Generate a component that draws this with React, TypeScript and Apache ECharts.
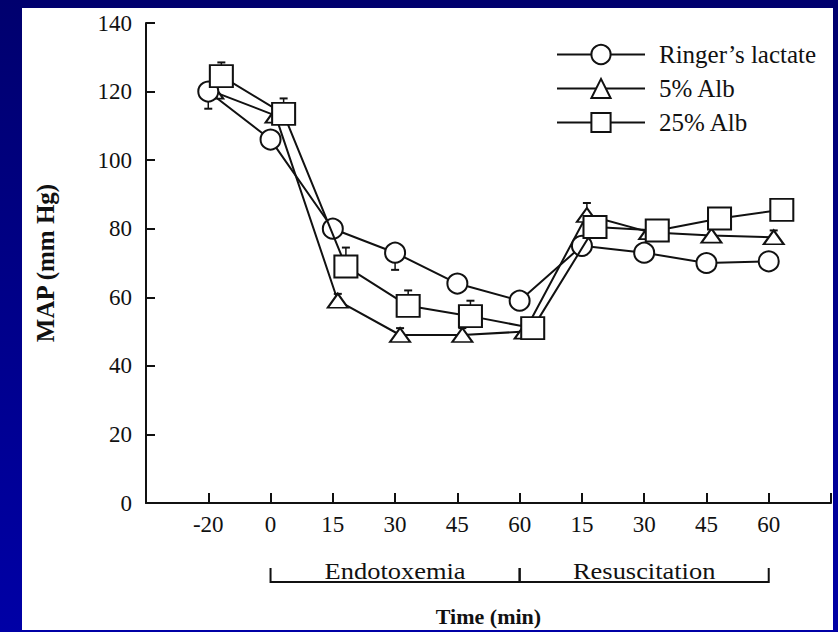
import React, { useEffect, useRef } from 'react';
import * as echarts from 'echarts';

// Time points (minutes): baseline, endotoxemia phase, resuscitation phase
const timeLabels = ['-20', '0', '15', '30', '45', '60', '15', '30', '45', '60'];

// Mean arterial pressure (mm Hg) per group
const ringerLactate = [120, 106, 80, 73, 64, 59, 75, 73, 70, 70.5];
const ringerErr = [5, 2, 2, 5, 2, 2, 2, 2, 2, 2];
const alb5 = [120, 113, 59, 49, 49, 50, 84, 79, 78, 77.5];
const alb5Err = [2, 2, 2, 2, 2, 2, 3.5, 2, 2, 2];
const alb25 = [124.5, 113.5, 69, 57.5, 54.5, 51, 80.5, 79.5, 83, 85.5];
const alb25Err = [4, 4.5, 5.5, 4.5, 4.5, 2, 2, 2, 2, 2];

// Experimental phases, spanning time-point indices
const phases = [
  { name: 'Endotoxemia', from: 1, to: 5 },
  { name: 'Resuscitation', from: 5, to: 9 },
];

const FONT = '"Liberation Serif", "Times New Roman", serif';
const INK = '#111';

type Group = {
  name: string;
  values: number[];
  errors: number[];
  symbol: string;
  symbolSize: number | number[];
  dodge: number; // horizontal shift in index units so markers don't overlap
  errDir: number; // +1 error bar drawn upward, -1 downward
  z: number;
};

const groups: Group[] = [
  { name: 'Ringer\u2019s lactate', values: ringerLactate, errors: ringerErr, symbol: 'circle', symbolSize: 20, dodge: 0, errDir: -1, z: 4 },
  { name: '5% Alb', values: alb5, errors: alb5Err, symbol: 'triangle', symbolSize: [20, 14], dodge: 0.08, errDir: 1, z: 3 },
  { name: '25% Alb', values: alb25, errors: alb25Err, symbol: 'rect', symbolSize: [23, 22], dodge: 0.21, errDir: 1, z: 5 },
];

export default function App() {
  const ref = useRef<HTMLDivElement>(null);

  useEffect(() => {
    if (!ref.current) return;
    const chart = echarts.init(ref.current, undefined, { renderer: 'svg' });

    const lineSeries = groups.map((g) => ({
      type: 'line',
      name: g.name,
      data: g.values.map((v, i) => [i + g.dodge, v]),
      symbol: g.symbol,
      symbolSize: g.symbolSize,
      showAllSymbol: true,
      z: g.z,
      lineStyle: { color: INK, width: 2 },
      itemStyle: { color: '#fff', borderColor: INK, borderWidth: 2 },
      emphasis: { disabled: true },
    }));

    const errorSeries = groups.map((g) => ({
      type: 'custom',
      name: g.name + ' SE',
      z: 1,
      silent: true,
      encode: { x: 0, y: 1 },
      data: g.values.map((v, i) => [i + g.dodge, v, g.errors[i]]),
      renderItem: (_params: any, api: any) => {
        const x = api.value(0);
        const y = api.value(1);
        const e = api.value(2);
        const base = api.coord([x, y]);
        const tip = api.coord([x, y + g.errDir * e]);
        return {
          type: 'group',
          children: [
            { type: 'line', shape: { x1: base[0], y1: base[1], x2: tip[0], y2: tip[1] }, style: { stroke: INK, lineWidth: 1.5 } },
            { type: 'line', shape: { x1: tip[0] - 4, y1: tip[1], x2: tip[0] + 4, y2: tip[1] }, style: { stroke: INK, lineWidth: 2 } },
          ],
        };
      },
    }));

    // Bracket under the time axis marking each phase
    const phaseSeries = {
      type: 'custom',
      name: 'phases',
      silent: true,
      clip: false,
      encode: { x: [0, 1], y: 2 },
      data: phases.map((p) => [p.from, p.to, 0]),
      renderItem: (params: any, api: any) => {
        const a = api.coord([api.value(0), 0]);
        const b = api.coord([api.value(1), 0]);
        const y = a[1] + 79;
        return {
          type: 'group',
          children: [
            {
              type: 'polyline',
              shape: { points: [[a[0], y - 14], [a[0], y], [b[0], y], [b[0], y - 14]] },
              style: { stroke: INK, lineWidth: 2, fill: 'none' },
            },
            {
              type: 'text',
              x: (a[0] + b[0]) / 2,
              y: y - 11,
              scaleX: 1.15,
              style: {
                text: phases[params.dataIndex].name,
                fill: INK,
                font: `23px ${FONT}`,
                align: 'center',
                verticalAlign: 'middle',
              },
            },
          ],
        };
      },
    };

    chart.setOption({
      animation: false,
      textStyle: { fontFamily: FONT },
      graphic: {
        elements: [
          { type: 'rect', z: 0, silent: true, shape: { x: 22, y: 8, width: 811, height: 622 }, style: { fill: '#fff' } },
        ],
      },
      grid: { left: 146, right: 7, top: 23, bottom: 127, containLabel: false },
      legend: {
        orient: 'vertical',
        left: 551,
        top: 37,
        itemWidth: 88,
        itemHeight: 24,
        itemGap: 9,
        selectedMode: false,
        data: groups.map((g) => g.name),
        textStyle: { fontFamily: FONT, fontSize: 25, color: INK, padding: [0, 0, 0, 9] },
        itemStyle: { color: '#fff', borderColor: INK, borderWidth: 2 },
        lineStyle: { color: INK, width: 2 },
      },
      xAxis: {
        type: 'value',
        min: -1,
        max: timeLabels.length,
        interval: 1,
        name: 'Time (min)',
        nameLocation: 'middle',
        nameGap: 102,
        nameTextStyle: { fontFamily: FONT, fontSize: 22, fontWeight: 'bold', color: INK },
        axisLine: { onZero: false, lineStyle: { color: INK, width: 2 } },
        axisTick: { inside: true, length: 10, lineStyle: { color: INK, width: 2 } },
        axisLabel: {
          margin: 10,
          fontSize: 23,
          color: INK,
          fontFamily: FONT,
          formatter: (v: number) => (v >= 0 && v < timeLabels.length ? timeLabels[v] : ''),
        },
        splitLine: { show: false },
      },
      yAxis: {
        type: 'value',
        min: 0,
        max: 140,
        interval: 20,
        name: 'MAP (mm Hg)',
        nameLocation: 'middle',
        nameRotate: 90,
        nameGap: 88,
        nameTextStyle: { fontFamily: FONT, fontSize: 25, fontWeight: 'bold', color: INK },
        axisLine: { show: true, onZero: false, lineStyle: { color: INK, width: 2 } },
        axisTick: { show: true, inside: true, length: 9, lineStyle: { color: INK, width: 2 } },
        axisLabel: { margin: 14, fontSize: 23, color: INK, fontFamily: FONT },
        splitLine: { show: false },
      },
      series: [...errorSeries, ...lineSeries, phaseSeries],
    });

    return () => chart.dispose();
  }, []);

  return (
    <div
      ref={ref}
      style={{
        position: 'fixed',
        left: 0,
        top: 0,
        width: 838,
        height: 632,
        background: 'linear-gradient(to bottom, #00006e, #0000a6)',
      }}
    />
  );
}
